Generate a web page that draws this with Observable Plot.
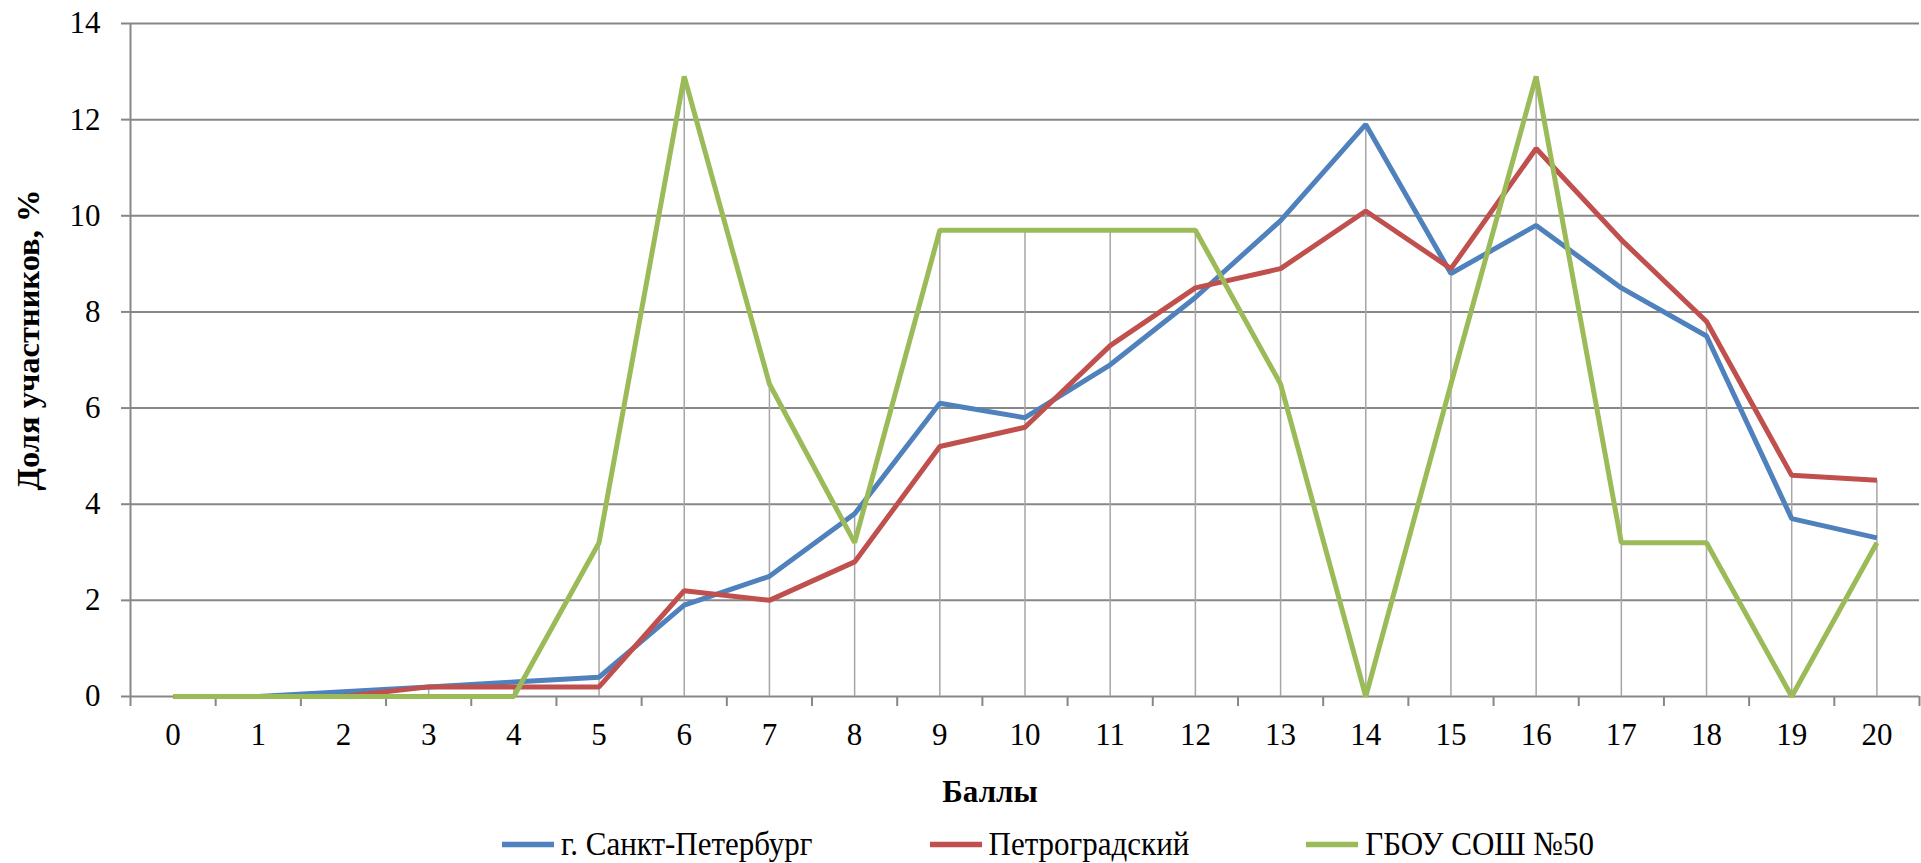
<!DOCTYPE html>
<html>
<head>
<meta charset="utf-8">
<script src="https://cdn.jsdelivr.net/npm/d3@7"></script>
<script src="https://cdn.jsdelivr.net/npm/@observablehq/plot@0.6"></script>
<style>
  body { margin: 0; background: #fff; }
  #wrap { position: relative; width: 1921px; height: 863px; font-family: "Liberation Serif", "Times New Roman", "DejaVu Serif", serif; color: #000; overflow: hidden; }
  #chart { position: absolute; left: 0; top: 0; }
  #chart svg text { font-family: "Liberation Serif", "Times New Roman", "DejaVu Serif", serif !important; font-size: 31px !important; fill: #000; }
  .xtitle { position: absolute; left: 990px; top: 791px; transform: translate(-50%, -50%); font-weight: bold; font-size: 31px; line-height: 1; white-space: nowrap; }
  .ytitle { position: absolute; left: 28px; top: 340px; transform: translate(-50%, -50%) rotate(-90deg); font-weight: bold; font-size: 32.5px; line-height: 1; white-space: nowrap; }
  .legend { position: absolute; left: 502px; top: 844px; transform: translateY(-50%); display: flex; align-items: center; gap: 117px; font-size: 31px; line-height: 1; white-space: nowrap; }
  .legend .item { display: flex; align-items: center; }
  .legend span { display: inline-block; transform: scaleY(1.08); }
  .legend svg { margin-right: 7px; }
</style>
</head>
<body>
<div id="wrap">
  <div id="chart"></div>
</div>
<script>
// ---- data ----
const scores = [0, 1, 2, 3, 4, 5, 6, 7, 8, 9, 10, 11, 12, 13, 14, 15, 16, 17, 18, 19, 20];
const spb    = [0, 0, 0.1, 0.2, 0.3, 0.4, 1.9, 2.5, 3.8, 6.1, 5.8, 6.9, 8.3, 9.9, 11.9, 8.8, 9.8, 8.5, 7.5, 3.7, 3.3];
const petro  = [0, 0, 0, 0.2, 0.2, 0.2, 2.2, 2.0, 2.8, 5.2, 5.6, 7.3, 8.5, 8.9, 10.1, 8.9, 11.4, 9.5, 7.8, 4.6, 4.5];
const school = [0, 0, 0, 0, 0, 3.2, 12.9, 6.5, 3.2, 9.7, 9.7, 9.7, 9.7, 6.5, 0, 6.5, 12.9, 3.2, 3.2, 0, 3.2];
const seriesNames = ["г. Санкт-Петербург", "Петроградский", "ГБОУ СОШ №50"];
const seriesColors = ["#4F81BD", "#C0504D", "#9BBB59"];
const yTicks = [0, 2, 4, 6, 8, 10, 12, 14];
const xTitle = "Баллы";
const yTitle = "Доля участников, %";

// ---- build ----
const allSeries = [spb, petro, school];
const rows = [];
allSeries.forEach((vals, i) => scores.forEach((s, j) => rows.push({score: s, value: vals[j], series: seriesNames[i]})));
const drops = scores.map((s, j) => ({score: s, top: Math.max(spb[j], petro[j], school[j])}));
const bounds = scores.concat([scores[scores.length - 1] + 1]).map(k => k - 0.5);
const xDomain = [bounds[0], bounds[bounds.length - 1]];
const yDomain = [yTicks[0], yTicks[yTicks.length - 1]];

const chart = Plot.plot({
  width: 1921,
  height: 863,
  marginTop: 23,
  marginBottom: 167,
  marginLeft: 130,
  marginRight: 2,
  style: {background: "#fff", color: "#000", overflow: "visible"},
  x: {type: "linear", domain: xDomain},
  y: {domain: yDomain},
  color: {domain: seriesNames, range: seriesColors},
  marks: [
    Plot.ruleY(yTicks, {stroke: "#878787", strokeWidth: 2}),
    Plot.ruleX(drops, {x: "score", y1: 0, y2: "top", stroke: "#A6A6A6", strokeWidth: 1.5}),
    Plot.ruleX([xDomain[0]], {y1: yDomain[0], y2: yDomain[1], stroke: "#878787", strokeWidth: 2}),
    Plot.axisY({ticks: yTicks, tickSize: 9, tickPadding: 21, tickFormat: d => String(d), stroke: "#878787", strokeWidth: 2, label: null}),
    Plot.axisX({ticks: bounds, tickSize: 10, tickFormat: () => "", stroke: "#878787", strokeWidth: 2, label: null}),
    Plot.axisX({ticks: scores, tickSize: 0, tickPadding: 26, tickFormat: d => String(d), label: null}),
    Plot.line(rows, {x: "score", y: "value", z: "series", stroke: "series", strokeWidth: 5, strokeLinejoin: "miter", strokeLinecap: "butt"})
  ]
});
document.getElementById("chart").appendChild(chart);

const wrap = document.getElementById("wrap");
const xt = document.createElement("div"); xt.className = "xtitle"; xt.textContent = xTitle; wrap.appendChild(xt);
const yt = document.createElement("div"); yt.className = "ytitle"; yt.textContent = yTitle; wrap.appendChild(yt);

const legend = document.createElement("div");
legend.className = "legend";
seriesNames.forEach((name, i) => {
  const item = document.createElement("div");
  item.className = "item";
  item.innerHTML = `<svg width="52" height="8"><line x1="0" x2="52" y1="4" y2="4" stroke="${seriesColors[i]}" stroke-width="5.5"/></svg><span>${name}</span>`;
  legend.appendChild(item);
});
wrap.appendChild(legend);
</script>
</body>
</html>
